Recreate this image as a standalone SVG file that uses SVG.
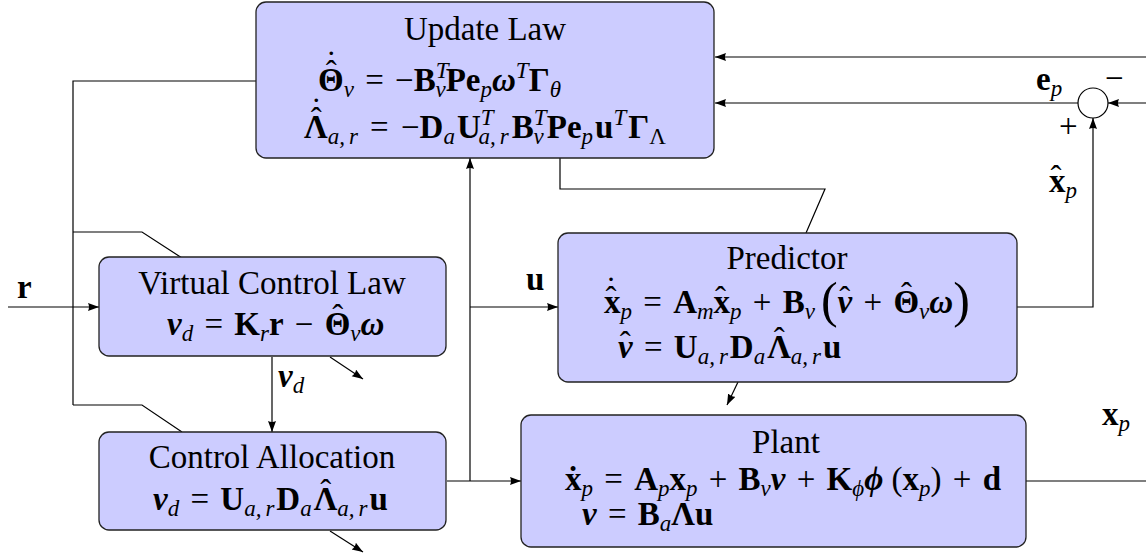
<svg xmlns="http://www.w3.org/2000/svg" width="1146" height="556" viewBox="0 0 1146 556" font-family="'Liberation Serif', 'DejaVu Serif', serif">
<defs>
<marker id="arr" markerUnits="userSpaceOnUse" markerWidth="12" markerHeight="9" refX="11" refY="4" orient="auto">
<path d="M0,0 L11,4 L0,8 Q2,4 0,0 z" fill="#000"/>
</marker>
<style>
.box{fill:#ccccff;stroke:#222;stroke-width:1.3}
.ln{fill:none;stroke:#000;stroke-width:1.2}
.ar{fill:none;stroke:#000;stroke-width:1.2;marker-end:url(#arr)}
text{fill:#000}
.ti{font-size:33px;text-anchor:middle}
.m{font-size:33px}
.b{font-weight:bold;font-style:normal}
.bi{font-weight:bold;font-style:italic}
.s{font-size:23px;font-style:italic;font-weight:normal}
.su{font-size:23px;font-style:normal;font-weight:normal}
.p{font-size:50px;font-weight:normal}
.ac{font-size:33px;font-weight:normal;font-style:normal}
</style>
</defs>

<g id="connectors">
<line class="ar" x1="1146" y1="57" x2="715" y2="57"/>
<line class="ar" x1="1078" y1="103" x2="715" y2="103"/>
<line class="ar" x1="1146" y1="103" x2="1108" y2="103"/>
<polyline class="ar" points="1017,307 1093,307 1093,118"/>
<polyline class="ln" points="256,81 73,81 73,405"/>
<polyline class="ln" points="73,232 142,232 182,258"/>
<polyline class="ln" points="73,405 142,405 182,432"/>
<line class="ar" x1="8" y1="307" x2="99" y2="307"/>
<line class="ar" x1="272" y1="357" x2="272" y2="432"/>
<line class="ar" x1="330" y1="357" x2="363" y2="379"/>
<line class="ar" x1="330" y1="531" x2="363" y2="552"/>
<line class="ar" x1="447" y1="481" x2="521" y2="481"/>
<line class="ar" x1="470" y1="481" x2="470" y2="158"/>
<line class="ar" x1="470" y1="307" x2="558" y2="307"/>
<polyline class="ln" points="560,158 560,189 825,189 806,233"/>
<line class="ar" x1="738" y1="382" x2="727" y2="405"/>
<line class="ln" x1="1026" y1="481" x2="1146" y2="481"/>
<text class="m b" x="17" y="298">r</text>
<text class="m" x="278" y="387"><tspan class="bi">ν</tspan><tspan class="s" dy="6">d</tspan></text>
<text class="m b" x="526" y="290">u</text>
<text class="m" x="1036" y="90"><tspan class="b">e</tspan><tspan class="s" dy="6">p</tspan></text>
<text class="m" x="1049" y="192"><tspan class="b">x</tspan><tspan class="ac" dx="-15" dy="-3">ˆ</tspan><tspan class="s" dx="4" dy="9">p</tspan></text>
<text class="m" x="1102" y="425"><tspan class="b">x</tspan><tspan class="s" dy="6">p</tspan></text>
</g>

<g id="sum-junction">
<circle cx="1093" cy="103" r="15" fill="#fff" stroke="#000" stroke-width="1.2"/>
<text class="m" x="1105" y="89">−</text>
<text class="m" x="1059" y="137">+</text>
</g>

<g id="update-law">
<rect class="box" x="256" y="2" width="458" height="156" rx="10"/>
<text class="ti" x="485" y="40">Update Law</text>
<text class="m" x="318" y="91"><tspan class="b">Θ</tspan><tspan class="ac" dx="-18" dy="-7">ˆ</tspan><tspan class="ac" dx="-11" dy="-10">˙</tspan><tspan class="s" dx="7" dy="23">ν</tspan><tspan dy="-6" dx="0 3 3 0"> = −</tspan><tspan class="b">B</tspan><tspan class="s" dy="-13">T</tspan><tspan class="s" dx="-13" dy="19">ν</tspan><tspan class="b" dy="-6">Pe</tspan><tspan class="s" dy="6">p</tspan><tspan class="bi" dy="-6">ω</tspan><tspan class="s" dy="-13">T</tspan><tspan class="b" dy="13">Γ</tspan><tspan class="s" dy="6">θ</tspan></text>
<text class="m" x="304" y="138"><tspan class="b">Λ</tspan><tspan class="ac" dx="-17" dy="-7">ˆ</tspan><tspan class="ac" dx="-11" dy="-10">˙</tspan><tspan class="s" dx="6 0 4" dy="23">a,r</tspan><tspan dy="-6" dx="0 4 4 0"> = −</tspan><tspan class="b">D</tspan><tspan class="s" dy="6">a</tspan><tspan class="b" dy="-6" dx="2">U</tspan><tspan class="s" dy="-13">T</tspan><tspan class="s" dx="-13 0 4" dy="19">a,r</tspan><tspan class="b" dy="-6" dx="3">B</tspan><tspan class="s" dy="-13">T</tspan><tspan class="s" dx="-13" dy="19">ν</tspan><tspan class="b" dy="-6" dx="3">Pe</tspan><tspan class="s" dy="6">p</tspan><tspan class="b" dy="-6" dx="2">u</tspan><tspan class="s" dy="-13">T</tspan><tspan class="b" dy="13" dx="2">Γ</tspan><tspan class="su" dy="6">Λ</tspan></text>
</g>

<g id="virtual-control-law">
<rect class="box" x="99" y="257" width="347" height="99" rx="10"/>
<text class="ti" x="272" y="294">Virtual Control Law</text>
<text class="m" x="167" y="335"><tspan class="bi">ν</tspan><tspan class="s" dy="6">d</tspan><tspan dy="-6" dx="0 3 3"> = </tspan><tspan class="b">K</tspan><tspan class="s" dy="6">r</tspan><tspan class="b" dy="-6">r</tspan><tspan dx="0 3 3"> − </tspan><tspan class="b">Θ</tspan><tspan class="ac" dx="-18" dy="-7">ˆ</tspan><tspan class="s" dx="7" dy="13">ν</tspan><tspan class="bi" dy="-6">ω</tspan></text>
</g>

<g id="control-allocation">
<rect class="box" x="99" y="432" width="347" height="98" rx="10"/>
<text class="ti" x="272" y="468">Control Allocation</text>
<text class="m" x="153" y="510"><tspan class="bi">ν</tspan><tspan class="s" dy="6">d</tspan><tspan dy="-6" dx="0 3 3"> = </tspan><tspan class="b">U</tspan><tspan class="s" dy="6" dx="0 0 4">a,r</tspan><tspan class="b" dy="-6" dx="2">D</tspan><tspan class="s" dy="6">a</tspan><tspan class="b" dy="-6" dx="2">Λ</tspan><tspan class="ac" dx="-17" dy="-7">ˆ</tspan><tspan class="s" dx="6 0 4" dy="13">a,r</tspan><tspan class="b" dy="-6" dx="2">u</tspan></text>
</g>

<g id="predictor">
<rect class="box" x="558" y="233" width="459" height="149" rx="10"/>
<text class="ti" x="787" y="269">Predictor</text>
<text class="m" x="604" y="313"><tspan class="b">x</tspan><tspan class="ac" dx="-15" dy="-3">ˆ</tspan><tspan class="ac" dx="-11" dy="-10">˙</tspan><tspan class="s" dx="4" dy="19">p</tspan><tspan dy="-6" dx="0 3 3"> = </tspan><tspan class="b">A</tspan><tspan class="s" dy="6">m</tspan><tspan class="b" dy="-6">x</tspan><tspan class="ac" dx="-15" dy="-3">ˆ</tspan><tspan class="s" dx="4" dy="9">p</tspan><tspan dy="-6" dx="0 3 3"> + </tspan><tspan class="b">B</tspan><tspan class="s" dy="6">ν</tspan><tspan class="p" dx="6" dy="-2">(</tspan><tspan class="bi" dy="-4">ν</tspan><tspan class="ac" dx="-13" dy="-3">ˆ</tspan><tspan dy="3" dx="2 3 3"> + </tspan><tspan class="b">Θ</tspan><tspan class="ac" dx="-18" dy="-7">ˆ</tspan><tspan class="s" dx="7" dy="13">ν</tspan><tspan class="bi" dy="-6">ω</tspan><tspan class="p" dy="4">)</tspan></text>
<text class="m" x="618" y="358"><tspan class="bi">ν</tspan><tspan class="ac" dx="-13" dy="-3">ˆ</tspan><tspan dy="3" dx="2 3 3"> = </tspan><tspan class="b">U</tspan><tspan class="s" dy="6" dx="0 0 4">a,r</tspan><tspan class="b" dy="-6" dx="2">D</tspan><tspan class="s" dy="6">a</tspan><tspan class="b" dy="-6" dx="2">Λ</tspan><tspan class="ac" dx="-17" dy="-7">ˆ</tspan><tspan class="s" dx="6 0 4" dy="13">a,r</tspan><tspan class="b" dy="-6" dx="2">u</tspan></text>
</g>

<g id="plant">
<rect class="box" x="521" y="415" width="505" height="132" rx="10"/>
<text class="ti" x="786" y="453">Plant</text>
<text class="m" x="565" y="490"><tspan class="b">ẋ</tspan><tspan class="s" dy="6">p</tspan><tspan dy="-6" dx="0 3 3"> = </tspan><tspan class="b">A</tspan><tspan class="s" dy="6">p</tspan><tspan class="b" dy="-6">x</tspan><tspan class="s" dy="6">p</tspan><tspan dy="-6" dx="0 3 3"> + </tspan><tspan class="b">B</tspan><tspan class="s" dy="6">ν</tspan><tspan class="bi" dy="-6">ν</tspan><tspan dx="0 3 3"> + </tspan><tspan class="b">K</tspan><tspan class="s" dy="6">ϕ</tspan><tspan class="bi" dy="-6">ϕ</tspan><tspan> (</tspan><tspan class="b">x</tspan><tspan class="s" dy="6">p</tspan><tspan dy="-6" dx="0 0 3 3">) + </tspan><tspan class="b">d</tspan></text>
<text class="m" x="582" y="525"><tspan class="bi">ν</tspan><tspan dx="0 3 3"> = </tspan><tspan class="b">B</tspan><tspan class="s" dy="6">a</tspan><tspan class="b" dy="-6">Λu</tspan></text>
</g>
</svg>
